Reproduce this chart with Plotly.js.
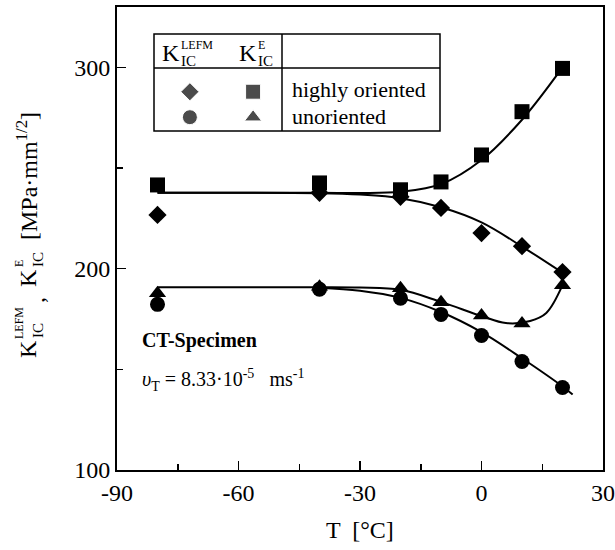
<!DOCTYPE html>
<html><head><meta charset="utf-8">
<script src="https://cdn.plot.ly/plotly-3.0.1.min.js"></script>
<style>body{margin:0;background:#fff}#chart{width:615px;height:550px}</style>
</head><body><div id="chart"></div><script>
// Measured data (T in °C, K in MPa·mm^1/2)
const temps = [-80, -40, -20, -10, 0, 10, 20];
const kE_oriented     = [241.6, 242.6, 239.2, 243.1, 256.5, 278.0, 299.5];
const kLEFM_oriented  = [226.7, 237.7, 235.7, 230.2, 217.7, 211.2, 198.3];
const kLEFM_unoriented= [182.3, 189.8, 185.3, 177.3, 166.8, 153.9, 141.0];
const kE_unoriented   = [187.8, 191.0, 190.3, 183.3, 176.8, 172.8, 191.8];

// Fitted curves
const fitEor_T   = [-80, -40, -30, -20, -10, 0, 10, 20];
const fitEor_K   = [237.7, 237.7, 237.6, 238.2, 242, 254, 274, 300];
const fitLor_T   = [-80, -40, -30, -20, -10, 0, 10, 20];
const fitLor_K   = [237.7, 237.5, 236.8, 235, 230.5, 223, 211, 198];
const fitEun_T   = [-80, -40, -30, -20, -10, 0, 6, 12, 16, 20];
const fitEun_K   = [190.8, 190.8, 190.6, 189.5, 183.5, 176.5, 173, 174, 178, 191.8];
const fitLun_T   = [-40, -30, -20, -10, 0, 10, 20, 22.5];
const fitLun_K   = [190.5, 189, 185.5, 178.5, 168.5, 155.5, 141.5, 137.5];

const xTickVals = [-90, -60, -30, 0, 30];
const xTickText = ['-90', '-60', '-30', '0', '30'];
const yTickVals = [100, 200, 300];
const yTickText = ['100', '200', '300'];

// legend symbol positions (fraction of plot area)
const legSymX = [0.15, 0.28, 0.15, 0.28];
const legSymY = [0.817, 0.817, 0.762, 0.762];
const legSymbols = ['diamond', 'square', 'circle', 'triangle-up'];
const legSizes = [14, 15, 15, 15];

const L = 117, R = 603, T = 7, B = 470;
const X = px => (px - L) / (R - L);
const Y = py => (B - py) / (B - T);

const FONT = 'Liberation Serif';

const fitLine = {color:'black', width:2, shape:'spline', smoothing:1};
const traces = [
  {x: fitEor_T, y: fitEor_K, mode: 'lines', line: fitLine},
  {x: fitLor_T, y: fitLor_K, mode: 'lines', line: fitLine},
  {x: fitEun_T, y: fitEun_K, mode: 'lines', line: fitLine},
  {x: fitLun_T, y: fitLun_K, mode: 'lines', line: fitLine},
  {x: temps, y: kE_oriented, mode: 'markers', marker: {symbol:'square', size:15, color:'black'}},
  {x: temps, y: kLEFM_oriented, mode: 'markers', marker: {symbol:'diamond', size:14, color:'black'}},
  {x: temps, y: kLEFM_unoriented, mode: 'markers', marker: {symbol:'circle', size:15, color:'black'}},
  {x: temps, y: kE_unoriented, mode: 'markers', marker: {symbol:'triangle-up', size:15, color:'black'}},
  {x: legSymX, y: legSymY, xaxis:'x2', yaxis:'y2', mode:'markers',
   marker: {symbol: legSymbols, size: legSizes, color:'black'}}
];

function ann(text, px, py, size, opts) {
  return Object.assign({text, x: X(px), y: Y(py), xref:'paper', yref:'paper', showarrow:false,
    xanchor:'left', yanchor:'middle', font:{family:FONT, size, color:'black'}}, opts || {});
}
function vann(text, px, py, size) {
  return ann(text, px, py, size, {xanchor:'center', yanchor:'middle', textangle:-90});
}

const annotations = [
  // legend header
  ann('K', 160, 53, 24),
  ann('LEFM', 179, 45, 12),
  ann('IC', 179, 61, 15),
  ann('K', 237, 53, 24),
  ann('E', 256, 45, 12),
  ann('IC', 256, 61, 15),
  ann('highly oriented', 290, 89, 22),
  ann('unoriented', 290, 116, 22),
  ann('<b>CT-Specimen</b>', 140, 340, 20),
  ann('<i>υ</i><sub>T</sub> = 8.33·10<sup>-5</sup>   ms<sup>-1</sup>', 140, 380, 20),
  ann('T  [°C]', 360, 530, 24, {xanchor:'center'}),
  // y-axis title, built from stacked pieces
  vann('K', 28, 349, 24),
  vann('LEFM', 19, 323, 12),
  vann('IC', 38, 331, 15),
  vann(',', 36, 300, 24),
  vann('K', 28, 278, 24),
  vann('E', 19, 264, 12),
  vann('IC', 38, 260, 15),
  vann('[MPa·mm<sup>1/2</sup>]', 27, 176, 24)
];

const shapes = [
  {type:'rect', xref:'paper', yref:'paper', x0:X(154), x1:X(440), y0:Y(131), y1:Y(34), line:{color:'black', width:1.5}},
  {type:'line', xref:'paper', yref:'paper', x0:X(154), x1:X(440), y0:Y(68), y1:Y(68), line:{color:'black', width:1.5}},
  {type:'line', xref:'paper', yref:'paper', x0:X(282), x1:X(282), y0:Y(131), y1:Y(34), line:{color:'black', width:1.5}}
];

const axisCommon = {ticks: 'inside', ticklen: 9, tickwidth: 1.5, tickcolor: 'black',
  showline: true, linewidth: 2, linecolor: 'black', mirror: true, showgrid: false, zeroline: false,
  tickfont: {family: FONT, size: 24, color: 'black'}};

const layout = {
  width: 615, height: 550,
  margin: {l: L, r: 615 - R, t: T, b: 550 - B},
  paper_bgcolor: 'white', plot_bgcolor: 'white',
  showlegend: false,
  font: {family: FONT, color: 'black'},
  xaxis: Object.assign({range: [-90, 30], tickmode: 'array', tickvals: xTickVals, ticktext: xTickText,
    minor: {tickmode: 'linear', dtick: 15, tick0: -90, ticks: 'inside', ticklen: 6, tickwidth: 1.5, tickcolor:'black', showgrid:false}}, axisCommon),
  yaxis: Object.assign({range: [100, 330], tickmode: 'array', tickvals: yTickVals, ticktext: yTickText,
    minor: {tickmode: 'linear', dtick: 50, tick0: 100, ticks: 'inside', ticklen: 6, tickwidth: 1.5, tickcolor:'black', showgrid:false}}, axisCommon),
  xaxis2: {range: [0, 1], overlaying: 'x', visible: false, fixedrange: true},
  yaxis2: {range: [0, 1], overlaying: 'y', visible: false, fixedrange: true},
  annotations, shapes
};

Plotly.newPlot('chart', traces, layout, {staticPlot: true});
</script></body></html>
